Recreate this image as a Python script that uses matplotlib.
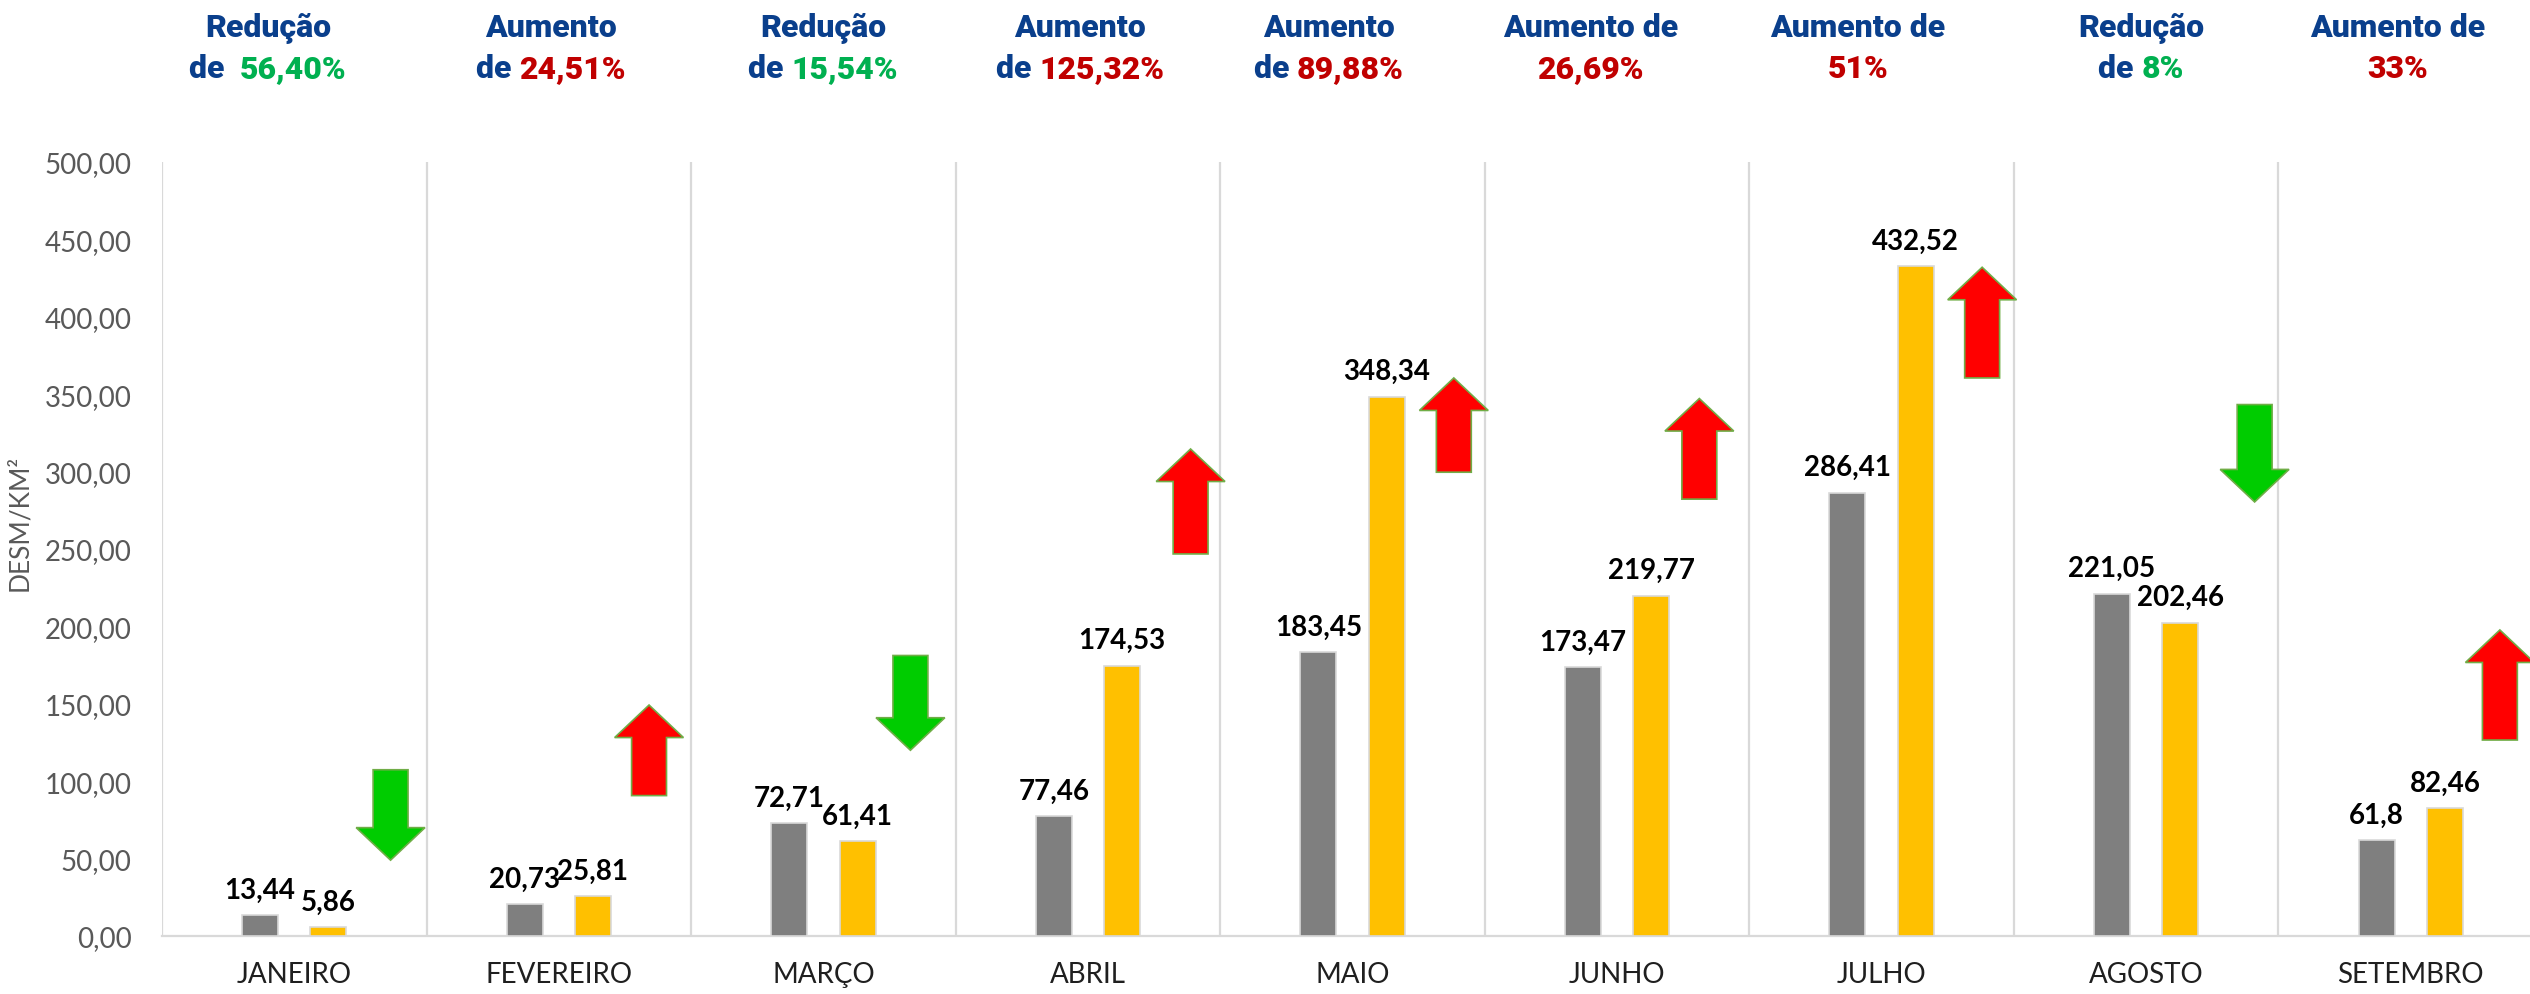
import numpy as np
import matplotlib
matplotlib.use('Agg')
import matplotlib.pyplot as plt
from matplotlib.patches import FancyArrow
from matplotlib.offsetbox import TextArea, HPacker, AnnotationBbox

# Dados
meses = ['JANEIRO', 'FEVEREIRO', 'MARÇO', 'ABRIL', 'MAIO',
         'JUNHO', 'JULHO', 'AGOSTO', 'SETEMBRO']
ano_ant = [13.44, 20.73, 72.71, 77.46, 183.45, 173.47, 286.41, 221.05, 61.8]
ano_atual = [5.86, 25.81, 61.41, 174.53, 348.34, 219.77, 432.52, 202.46, 82.46]

# Textos do topo
linha1 = ['Redução', 'Aumento', 'Redução', 'Aumento', 'Aumento',
          'Aumento de', 'Aumento de', 'Redução', 'Aumento de']
prefixo = ['de  ', 'de ', 'de ', 'de ', 'de ', '', '', 'de ', '']
variacao = ['56,40%', '24,51%', '15,54%', '125,32%', '89,88%',
            '26,69%', '51%', '8%', '33%']

# Setas (inicio -> fim, em DESM/KM2)
seta_ini = [107.4, 90.7, 181.2, 246.8, 299.6, 282.2, 360.5, 343.3, 126.6]
seta_fim = [49.0, 149.2, 120.0, 314.6, 360.5, 347.2, 432.0, 280.4, 197.7]
seta_dx = [0.364, 0.341, 0.329, 0.388, 0.383, 0.311, 0.38, 0.41, 0.337]
texto_dx = [-0.1, -0.03, 0.0, -0.03, -0.09, -0.1, -0.09, -0.02, -0.05]

AZUL = '#0A3F8C'
VERDE_TXT = '#00B050'
VERM_TXT = '#C00000'

W, H = 2530, 995
fig = plt.figure(figsize=(W / 100, H / 100), dpi=100)
ax = fig.add_axes([162 / W, 58 / H, 2381 / W, 774 / H])

x = np.arange(len(meses))
larg = 0.136
desl = 0.129

ax.bar(x - desl, ano_ant, width=larg, color='#7F7F7F',
       edgecolor='#D9D9D9', linewidth=1.2, zorder=3)
ax.bar(x + desl, ano_atual, width=larg, color='#FFC000',
       edgecolor='#D9D9D9', linewidth=1.2, zorder=3)

def fmt(v):
    return f'{v:g}'.replace('.', ',')

for xs, serie in [(x - desl, ano_ant), (x + desl, ano_atual)]:
    for xi, v in zip(xs, serie):
        ax.annotate(fmt(v), (xi, v), xytext=(0, 9), textcoords='offset points',
                    ha='center', va='bottom', fontsize=20, fontweight='bold',
                    family='Lato', color='black', zorder=5)

# Setas
for i in range(len(meses)):
    y0, y1 = seta_ini[i], seta_fim[i]
    cor = '#FF0000' if y1 > y0 else '#00CC00'
    arr = FancyArrow(x[i] + seta_dx[i], y0, 0, y1 - y0, width=0.132,
                     head_width=0.26, head_length=21,
                     length_includes_head=True, facecolor=cor,
                     edgecolor='#70AD47', linewidth=1.2, zorder=4)
    ax.add_patch(arr)

# Separadores verticais
for b in np.arange(len(meses) + 1) - 0.5:
    ax.plot([b, b], [0, 500], color='#D9D9D9', linewidth=1.6, zorder=1)

ax.set_xlim(-0.5, len(meses) - 0.5)
ax.set_ylim(0, 500)
ax.set_yticks(np.arange(0, 501, 50))
ax.set_yticklabels([f'{v:.2f}'.replace('.', ',') for v in np.arange(0, 501, 50)])
ax.set_xticks(x)
ax.set_xticklabels(meses)
ax.tick_params(axis='y', length=0, pad=22, labelsize=20, labelcolor='#595959')
ax.tick_params(axis='x', length=0, pad=18, labelsize=20, labelcolor='#1F1F1F')
for lab in ax.get_xticklabels() + ax.get_yticklabels():
    lab.set_family('Lato')
for s in ['top', 'right', 'left']:
    ax.spines[s].set_visible(False)
ax.spines['bottom'].set_color('#D9D9D9')
ax.spines['bottom'].set_linewidth(1.6)

fig.text(20 / W, 1 - 523 / H, 'DESM/KM²', rotation=90, ha='center',
         va='center', fontsize=19, color='#595959', family='Lato')

# Textos do topo
fonte_topo = dict(fontsize=23, fontweight='black', family='Roboto')
for i in range(len(meses)):
    cor = VERDE_TXT if linha1[i].startswith('Red') else VERM_TXT
    xt = x[i] + texto_dx[i]
    ax.annotate(linha1[i], (xt, 1 - 28 / H), xycoords=('data', 'figure fraction'),
                ha='center', va='center', color=AZUL, annotation_clip=False,
                **fonte_topo)
    partes = []
    if prefixo[i]:
        partes.append(TextArea(prefixo[i], textprops=dict(color=AZUL, **fonte_topo)))
    partes.append(TextArea(variacao[i], textprops=dict(color=cor, **fonte_topo)))
    caixa = HPacker(children=partes, pad=0, sep=0, align='baseline')
    ab = AnnotationBbox(caixa, (xt, 1 - 69 / H), xycoords=('data', 'figure fraction'),
                        frameon=False, box_alignment=(0.5, 0.5),
                        annotation_clip=False)
    ax.add_artist(ab)

fig.savefig('out.png', dpi=100)
